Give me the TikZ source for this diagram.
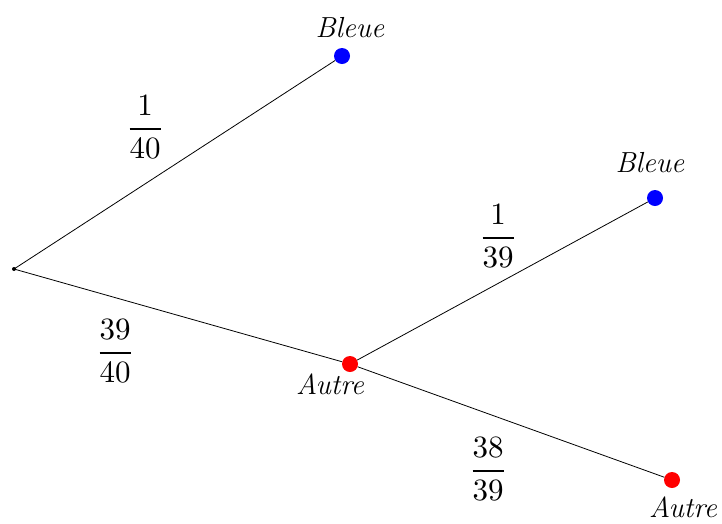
\documentclass[tikz,border=0pt]{standalone}
\usepackage{amsmath}
\usepackage{tikz}
\usetikzlibrary{positioning}

\begin{document}
\begin{tikzpicture}[
    x=1pt, y=-1pt,
    branch/.style={draw=black, line width=0.8pt},
    leaf/.style={circle, fill=#1, inner sep=0pt, minimum size=16pt},
    root/.style={circle, fill=black, inner sep=0pt, minimum size=4pt},
    outcome/.style={font=\fontsize{29}{34}\selectfont\itshape, inner sep=0pt},
    prob/.style={scale=3.1, inner sep=0pt}
]
\useasboundingbox (0,0) rectangle (722,523);

% Points of the tree
\node[root] (o) at (14,269) {};
\node[leaf=blue] (b1) at (342,56) {};
\node[leaf=red] (a1) at (350,364) {};
\node[leaf=blue] (b2) at (655,198) {};
\node[leaf=red] (a2) at (672,480) {};

% Branches
\draw[branch] (o.center) -- (b1);
\draw[branch] (o.center) -- (a1);
\draw[branch] (a1) -- (b2);
\draw[branch] (a1) -- (a2);

% Outcomes
\node[outcome] (lb1) at (350,28) {Bleue};
\node[outcome] (la1) at (330,384) {Autre};
\node[outcome] (lb2) at (650,163) {Bleue};
\node[outcome] (la2) at (683,507) {Autre};

% Probabilities
\node[prob] (p1) at (145,127) {$\dfrac{1}{40}$};
\node[prob] (p2) at (115,351) {$\dfrac{39}{40}$};
\node[prob] (p3) at (498,236) {$\dfrac{1}{39}$};
\node[prob] (p4) at (488,469) {$\dfrac{38}{39}$};

\end{tikzpicture}
\end{document}
